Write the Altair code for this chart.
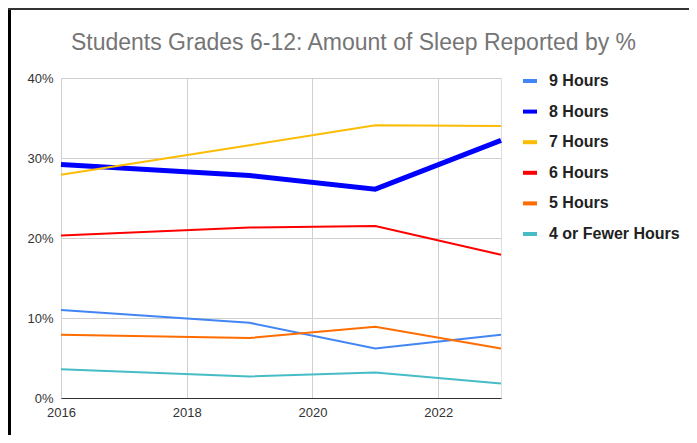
import altair as alt
import pandas as pd

years = [2016, 2019, 2021, 2023]
series_names = ["9 Hours", "8 Hours", "7 Hours", "6 Hours", "5 Hours", "4 or Fewer Hours"]
nine_hours = [11.0, 9.4, 6.2, 7.9]
eight_hours = [29.2, 27.8, 26.1, 32.2]
seven_hours = [27.9, 31.6, 34.1, 34.0]
six_hours = [20.3, 21.3, 21.5, 17.9]
five_hours = [7.9, 7.5, 8.9, 6.2]
four_or_fewer = [3.6, 2.7, 3.2, 1.8]
colors = ["#4285F4", "#0000FF", "#FBBC04", "#FF0000", "#FF6D01", "#46BDC6"]
x_ticks = [2016, 2018, 2020, 2022]
y_ticks = [0, 10, 20, 30, 40]
title_text = "Students Grades 6-12: Amount of Sleep Reported by %"

all_values = [nine_hours, eight_hours, seven_hours, six_hours, five_hours, four_or_fewer]
rows = []
for i, (name, vals) in enumerate(zip(series_names, all_values)):
    for yr, v in zip(years, vals):
        rows.append({"Year": yr, "Percent": v, "Series": name, "order": i,
                     "w": 5 if name == "8 Hours" else 2})
df = pd.DataFrame(rows)

FONT = "Liberation Sans"

lines = alt.Chart(df).mark_line().encode(
    x=alt.X("Year:Q", scale=alt.Scale(domain=[2016, 2023], nice=False, zero=False),
            axis=alt.Axis(values=x_ticks, format="d", title=None, ticks=False,
                          labelPadding=8, labelFontSize=13, labelColor="#333",
                          labelFont=FONT, domainColor="#333", gridColor="#d0d0d0",
                          labelFlush=False)),
    y=alt.Y("Percent:Q", scale=alt.Scale(domain=[0, 40], nice=False),
            axis=alt.Axis(values=y_ticks, labelExpr="datum.value + '%'", title=None,
                          ticks=False, domain=False, labelPadding=8, labelFontSize=13,
                          labelColor="#333", labelFont=FONT, gridColor="#d0d0d0")),
    color=alt.Color("Series:N", scale=alt.Scale(domain=series_names, range=colors),
                    legend=alt.Legend(title=None, orient="none", legendX=460, legendY=-6,
                                      symbolType="stroke", symbolSize=196,
                                      symbolStrokeWidth=4, labelFont=FONT,
                                      labelFontSize=16, labelFontWeight="bold",
                                      labelColor="#222", labelOffset=10,
                                      rowPadding=13.6, padding=0)),
    strokeWidth=alt.StrokeWidth("w:Q", scale=None, legend=None),
    order=alt.Order("order:Q"),
)

one_df = pd.DataFrame({"t": [title_text]})
title_mark = alt.Chart(one_df).mark_text(
    font=FONT, fontSize=23, color="#757575", align="center", baseline="alphabetic"
).encode(x=alt.value(292.5), y=alt.value(-28), text="t:N")

left_border = alt.Chart(one_df).mark_rule(color="#000", strokeWidth=3).encode(
    x=alt.value(-51.5), y=alt.value(-70), y2=alt.value(357))
top_border = alt.Chart(one_df).mark_rule(color="#333", strokeWidth=2).encode(
    x=alt.value(-53), x2=alt.value(628), y=alt.value(-69))

chart = alt.layer(lines, title_mark, left_border, top_border).properties(
    width=440, height=320,
    autosize=alt.AutoSizeParams(type="none"),
    padding={"left": 53, "top": 70, "right": 188, "bottom": 37},
).configure_view(stroke=None).configure(background="white")

chart.save("out.html", embed_options={"renderer": "svg", "actions": False})
